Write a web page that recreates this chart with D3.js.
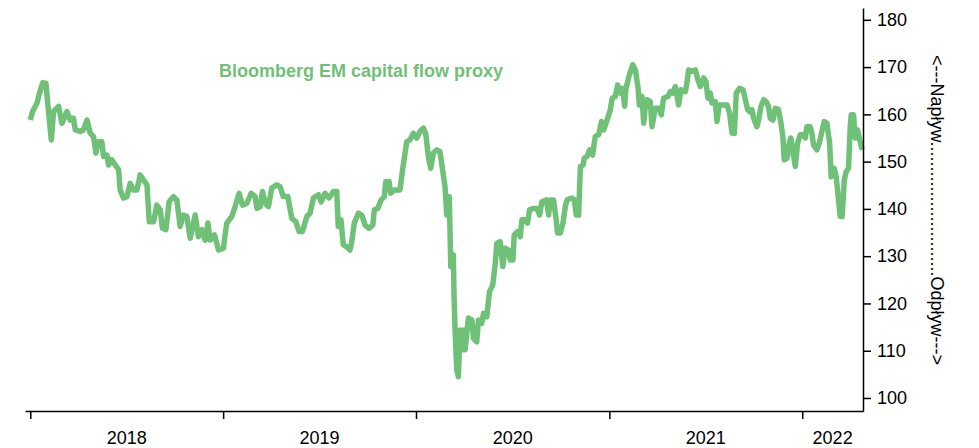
<!DOCTYPE html>
<html>
<head>
<meta charset="utf-8">
<script src="https://cdn.jsdelivr.net/npm/d3@7"></script>
<style>
  html, body { margin: 0; padding: 0; background: #fff; }
  svg { display: block; font-family: "Liberation Sans", Arial, sans-serif; }
</style>
</head>
<body>
<svg id="chart" width="979" height="448"></svg>
<script>
// ---- data (decimal year, index value) ----
const flowProxy = [
  [2018.000,158.8],[2018.012,160.6],[2018.035,162.4],[2018.043,163.8],[2018.064,166.7],[2018.081,166.6],[2018.092,161.7],[2018.109,154.6],[2018.121,160.6],[2018.147,161.7],[2018.164,158.1],[2018.190,160.6],[2018.207,158.8],[2018.224,159.2],[2018.233,156.7],[2018.259,156.4],[2018.276,156.7],[2018.294,158.8],[2018.311,156.0],[2018.328,155.3],[2018.340,151.8],[2018.354,154.2],[2018.371,154.2],[2018.380,151.1],[2018.397,151.4],[2018.406,149.3],[2018.423,150.4],[2018.440,149.3],[2018.458,148.3],[2018.466,144.0],[2018.483,142.3],[2018.501,142.6],[2018.518,145.4],[2018.535,144.0],[2018.553,144.0],[2018.570,147.2],[2018.587,146.1],[2018.605,145.1],[2018.617,137.3],[2018.639,137.3],[2018.656,140.8],[2018.674,139.8],[2018.685,135.9],[2018.703,135.6],[2018.720,141.5],
  [2018.742,142.6],[2018.760,141.9],[2018.777,136.3],[2018.794,138.7],[2018.812,138.4],[2018.829,133.8],[2018.855,138.7],[2018.872,134.1],[2018.890,135.6],[2018.907,133.4],[2018.921,137.0],[2018.933,133.4],[2018.955,134.5],[2018.976,131.3],[2019.002,131.7],[2019.010,134.5],[2019.019,137.0],[2019.045,138.4],[2019.062,140.5],[2019.083,143.3],[2019.100,140.8],[2019.123,141.2],[2019.145,143.3],[2019.166,142.6],[2019.175,140.1],[2019.192,140.5],[2019.204,143.7],[2019.218,141.2],[2019.235,140.5],[2019.252,144.4],[2019.278,145.1],[2019.295,144.7],[2019.312,142.6],[2019.335,142.6],[2019.356,138.0],[2019.377,137.3],[2019.394,135.2],[2019.411,135.2],[2019.434,138.4],[2019.451,139.1],
  [2019.468,142.3],[2019.494,143.0],[2019.508,141.5],[2019.528,143.3],[2019.549,142.3],[2019.572,143.7],[2019.589,143.7],[2019.597,136.3],[2019.611,137.7],[2019.623,132.4],[2019.641,132.0],[2019.658,131.3],[2019.667,133.1],[2019.680,137.0],[2019.701,139.1],[2019.719,138.7],[2019.736,136.6],[2019.756,135.9],[2019.776,136.6],[2019.784,139.8],[2019.802,140.1],[2019.819,141.9],[2019.836,142.6],[2019.843,145.8],[2019.860,145.8],[2019.869,143.3],[2019.888,144.0],[2019.917,144.0],[2019.929,147.9],[2019.952,154.2],[2019.969,154.6],[2019.986,156.0],[2020.004,155.0],[2020.021,156.4],[2020.038,157.1],[2020.050,156.0],[2020.064,151.1],[2020.076,148.6],[2020.090,151.8],[2020.107,152.5],[2020.124,152.1],
  [2020.150,144.7],[2020.159,138.7],[2020.172,142.6],[2020.180,127.8],[2020.193,130.3],[2020.197,121.1],[2020.202,114.4],[2020.211,105.9],[2020.219,104.5],[2020.228,114.4],[2020.237,110.2],[2020.245,114.4],[2020.254,110.2],[2020.271,116.9],[2020.289,116.5],[2020.297,112.6],[2020.314,111.9],[2020.323,116.5],[2020.340,115.8],[2020.349,117.9],[2020.366,117.2],[2020.380,122.5],[2020.397,123.9],[2020.409,128.1],[2020.418,132.7],[2020.435,133.1],[2020.449,127.8],[2020.461,131.7],[2020.478,131.3],[2020.487,129.2],[2020.501,129.2],[2020.508,134.5],[2020.525,135.2],[2020.539,134.1],[2020.548,137.7],[2020.565,137.7],[2020.577,137.0],[2020.587,139.8],[2020.608,140.1],[2020.625,140.1],[2020.639,138.7],[2020.651,141.5],[2020.674,141.9],[2020.686,138.7],[2020.694,141.9],[2020.711,141.9],[2020.725,137.7],[2020.732,134.9],[2020.746,134.9],[2020.760,137.0],[2020.772,140.5],[2020.781,141.9],[2020.807,142.3],[2020.819,141.9],[2020.829,138.7],[2020.841,138.7],[2020.850,149.0],[2020.864,149.3],[2020.870,150.7],[2020.884,151.1],[2020.898,152.5],
  [2020.913,151.4],[2020.927,155.3],[2020.945,155.7],[2020.959,158.5],[2020.971,156.7],[2020.988,158.8],[2021.005,161.0],[2021.014,163.4],[2021.031,163.8],[2021.043,166.2],[2021.057,164.5],[2021.069,165.5],[2021.079,161.7],[2021.086,165.5],[2021.104,168.4],[2021.121,170.5],[2021.135,169.4],[2021.149,165.5],[2021.155,162.0],[2021.169,163.8],[2021.178,158.1],[2021.187,162.0],[2021.195,163.1],[2021.212,162.7],[2021.221,157.4],[2021.238,161.3],[2021.259,161.3],[2021.269,159.9],[2021.281,163.4],[2021.304,163.8],[2021.316,164.8],[2021.328,164.5],[2021.342,165.9],[2021.359,162.0],[2021.371,165.2],[2021.394,164.8],[2021.403,166.9],[2021.411,169.4],[2021.429,169.1],[2021.446,169.4],[2021.459,167.3],[2021.472,165.9],[2021.489,167.7],[2021.501,166.9],[2021.511,163.4],[2021.523,164.5],[2021.532,162.4],[2021.549,162.7],[2021.558,158.5],[2021.570,162.0],[2021.587,162.0],[2021.610,162.0],[2021.623,160.3],[2021.636,156.0],[2021.648,156.0],[2021.658,164.5],[2021.675,165.5],[2021.693,165.2],[2021.705,163.1],[2021.717,161.0],[2021.727,160.6],[2021.739,161.0],[2021.748,159.2],[2021.765,157.4],[2021.774,158.8],[2021.786,161.7],[2021.800,163.1],[2021.813,162.7],[2021.825,161.7],[2021.834,159.2],[2021.848,158.8],[2021.860,161.3],[2021.877,161.0],[2021.890,158.1],[2021.900,155.0],[2021.907,150.4],[2021.921,150.7],[2021.934,154.2],[2021.941,155.0],[2021.952,152.1],[2021.964,149.0],[2021.976,153.9],[2021.990,155.7],
  [2022.007,155.7],[2022.016,155.0],[2022.024,157.4],[2022.041,157.4],[2022.050,156.0],[2022.059,153.5],[2022.076,152.5],[2022.090,154.2],[2022.102,156.4],[2022.114,158.5],[2022.128,158.1],[2022.142,153.9],[2022.150,146.8],[2022.166,148.6],[2022.176,146.8],[2022.183,144.0],[2022.197,138.4],[2022.207,138.4],[2022.218,146.1],[2022.228,147.9],[2022.240,148.6],[2022.249,157.4],[2022.254,159.9],[2022.266,159.9],[2022.275,155.0],[2022.287,156.7],[2022.298,154.6],[2022.311,152.5]
];
const years = [2018, 2019, 2020, 2021, 2022];
const yTicks = [100, 110, 120, 130, 140, 150, 160, 170, 180];
const titleText = "Bloomberg EM capital flow proxy";
const sideLabel = "<---Napływ...........................Odpływ--->";

// ---- helpers ----
function decYearToDate(t) {
  const yr = Math.floor(t);
  const a = Date.UTC(yr, 0, 1), b = Date.UTC(yr + 1, 0, 1);
  return new Date(a + (t - yr) * (b - a));
}
const series = flowProxy.map(d => ({ date: decYearToDate(d[0]), value: d[1] }));

// ---- layout ----
const svg = d3.select("#chart");
const plotLeft = 25, plotRight = 863, plotTop = 8, plotBottom = 411;
const domainStart = new Date(Date.UTC(2017, 11, 22));
const domainEnd = new Date(Date.UTC(2022, 3, 26));
const x = d3.scaleUtc().domain([domainStart, domainEnd]).range([plotLeft, plotRight]);
const y = d3.scaleLinear().domain([97.25, 182.5]).range([plotBottom, plotTop]);

const green = "#70c178";

// line
const line = d3.line().x(d => x(d.date)).y(d => y(d.value));
svg.append("path")
  .datum(series)
  .attr("d", line)
  .attr("fill", "none")
  .attr("stroke", green)
  .attr("stroke-width", 5.5)
  .attr("stroke-linejoin", "round")
  .attr("stroke-linecap", "butt");

// bottom axis: ticks at year starts
const yearStarts = years.map(yr => new Date(Date.UTC(yr, 0, 1)));
const xAxis = d3.axisBottom(x).tickValues(yearStarts).tickSize(8).tickSizeOuter(0).tickFormat("");
const gx = svg.append("g").attr("transform", `translate(0,${plotBottom})`).call(xAxis);
gx.select(".domain").attr("stroke", "#000").attr("stroke-width", 1.5);
gx.selectAll(".tick line").attr("stroke", "#000").attr("stroke-width", 1.5);

// year labels centred within each year span
svg.append("g").selectAll("text")
  .data(years)
  .join("text")
  .attr("x", yr => {
    const a = new Date(Date.UTC(yr, 0, 1));
    const bRaw = new Date(Date.UTC(yr + 1, 0, 1));
    const b = bRaw > domainEnd ? domainEnd : bRaw;
    return (x(a) + x(b)) / 2;
  })
  .attr("y", 444)
  .attr("text-anchor", "middle")
  .attr("font-size", 18)
  .attr("fill", "#000")
  .text(yr => yr);

// right axis
const yAxis = d3.axisRight(y).tickValues(yTicks).tickSize(8).tickSizeOuter(0).tickPadding(6);
const gy = svg.append("g").attr("transform", `translate(${plotRight},0)`).call(yAxis);
gy.select(".domain").attr("stroke", "#000").attr("stroke-width", 1.5);
gy.selectAll(".tick line").attr("stroke", "#000").attr("stroke-width", 1.5);
gy.selectAll(".tick text").attr("font-size", 18).attr("font-family", "Liberation Sans, Arial, sans-serif").attr("fill", "#000");

// title
svg.append("text")
  .attr("x", 361)
  .attr("y", 77)
  .attr("text-anchor", "middle")
  .attr("font-size", 18)
  .attr("font-weight", "bold")
  .attr("fill", green)
  .text(titleText);

// side label (rotated)
svg.append("text")
  .attr("transform", "translate(937,210) rotate(90)")
  .attr("text-anchor", "middle")
  .attr("dominant-baseline", "central")
  .attr("font-size", 18)
  .attr("fill", "#000")
  .text(sideLabel);
</script>
</body>
</html>
